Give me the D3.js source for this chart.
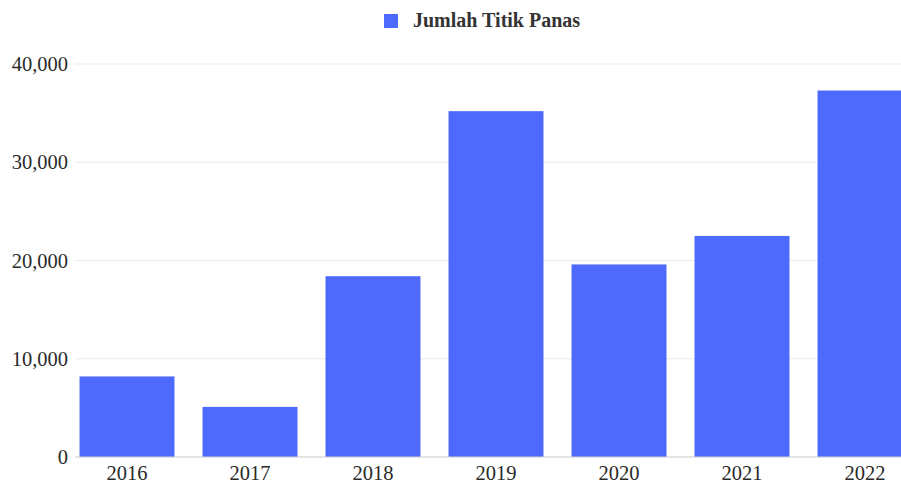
<!DOCTYPE html>
<html><head><meta charset="utf-8">
<script src="https://cdn.jsdelivr.net/npm/d3@7"></script>
<style>html,body{margin:0;padding:0;background:#fff;overflow:hidden}</style>
</head><body>
<svg id="chart" width="901" height="484"></svg>
<script>
const categories = ["2016","2017","2018","2019","2020","2021","2022"];
const values = [8200, 5100, 18400, 35200, 19600, 22500, 37300];
const yTicks = [0, 10000, 20000, 30000, 40000];
const seriesName = "Jumlah Titik Panas";

const svg = d3.select("#chart");
const font = "'Liberation Serif','Times New Roman',serif";
const color = "#4d6afd";

const x = d3.scaleBand().domain(categories).range([65.5, 926.5]).paddingInner(0.228).paddingOuter(0.114);
const y = d3.scaleLinear().domain([0, 40000]).range([457, 64]);

// gridlines
svg.append("g").selectAll("line").data(yTicks.filter(d => d > 0)).join("line")
  .attr("x1", 75).attr("x2", 901)
  .attr("y1", d => y(d)).attr("y2", d => y(d))
  .attr("stroke", "#ebebeb").attr("stroke-width", 1);

// bars
svg.append("g").selectAll("rect").data(values).join("rect")
  .attr("x", (d, i) => x(categories[i]))
  .attr("y", d => y(d))
  .attr("width", x.bandwidth())
  .attr("height", d => y(0) - y(d))
  .attr("fill", color);

// baseline
svg.append("line").attr("x1", 75).attr("x2", 901).attr("y1", y(0)).attr("y2", y(0))
  .attr("stroke", "#cccccc").attr("stroke-width", 1);

// y axis
const yAxis = d3.axisLeft(y).tickValues(yTicks).tickFormat(d3.format(",")).tickSize(0).tickPadding(0);
const yg = svg.append("g").attr("transform", "translate(68,0)").call(yAxis);
yg.select(".domain").remove();
yg.selectAll("text").attr("font-family", font).attr("font-size", 20.5).attr("fill", "#2a2a2a").attr("dy", "0.32em");

// x axis
const xAxis = d3.axisBottom(x).tickSize(0).tickPadding(0);
const xg = svg.append("g").attr("transform", `translate(0,${y(0) + 5})`).call(xAxis);
xg.select(".domain").remove();
xg.selectAll("text").attr("font-family", font).attr("font-size", 20.5).attr("fill", "#2a2a2a").attr("dy", "0.9em");

// legend
const lg = svg.append("g");
lg.append("rect").attr("x", 384).attr("y", 14).attr("width", 14).attr("height", 14).attr("fill", color);
lg.append("text").attr("x", 413).attr("y", 27).text(seriesName)
  .attr("font-family", font).attr("font-size", 20).attr("font-weight", "bold").attr("fill", "#333");
</script>
</body></html>
